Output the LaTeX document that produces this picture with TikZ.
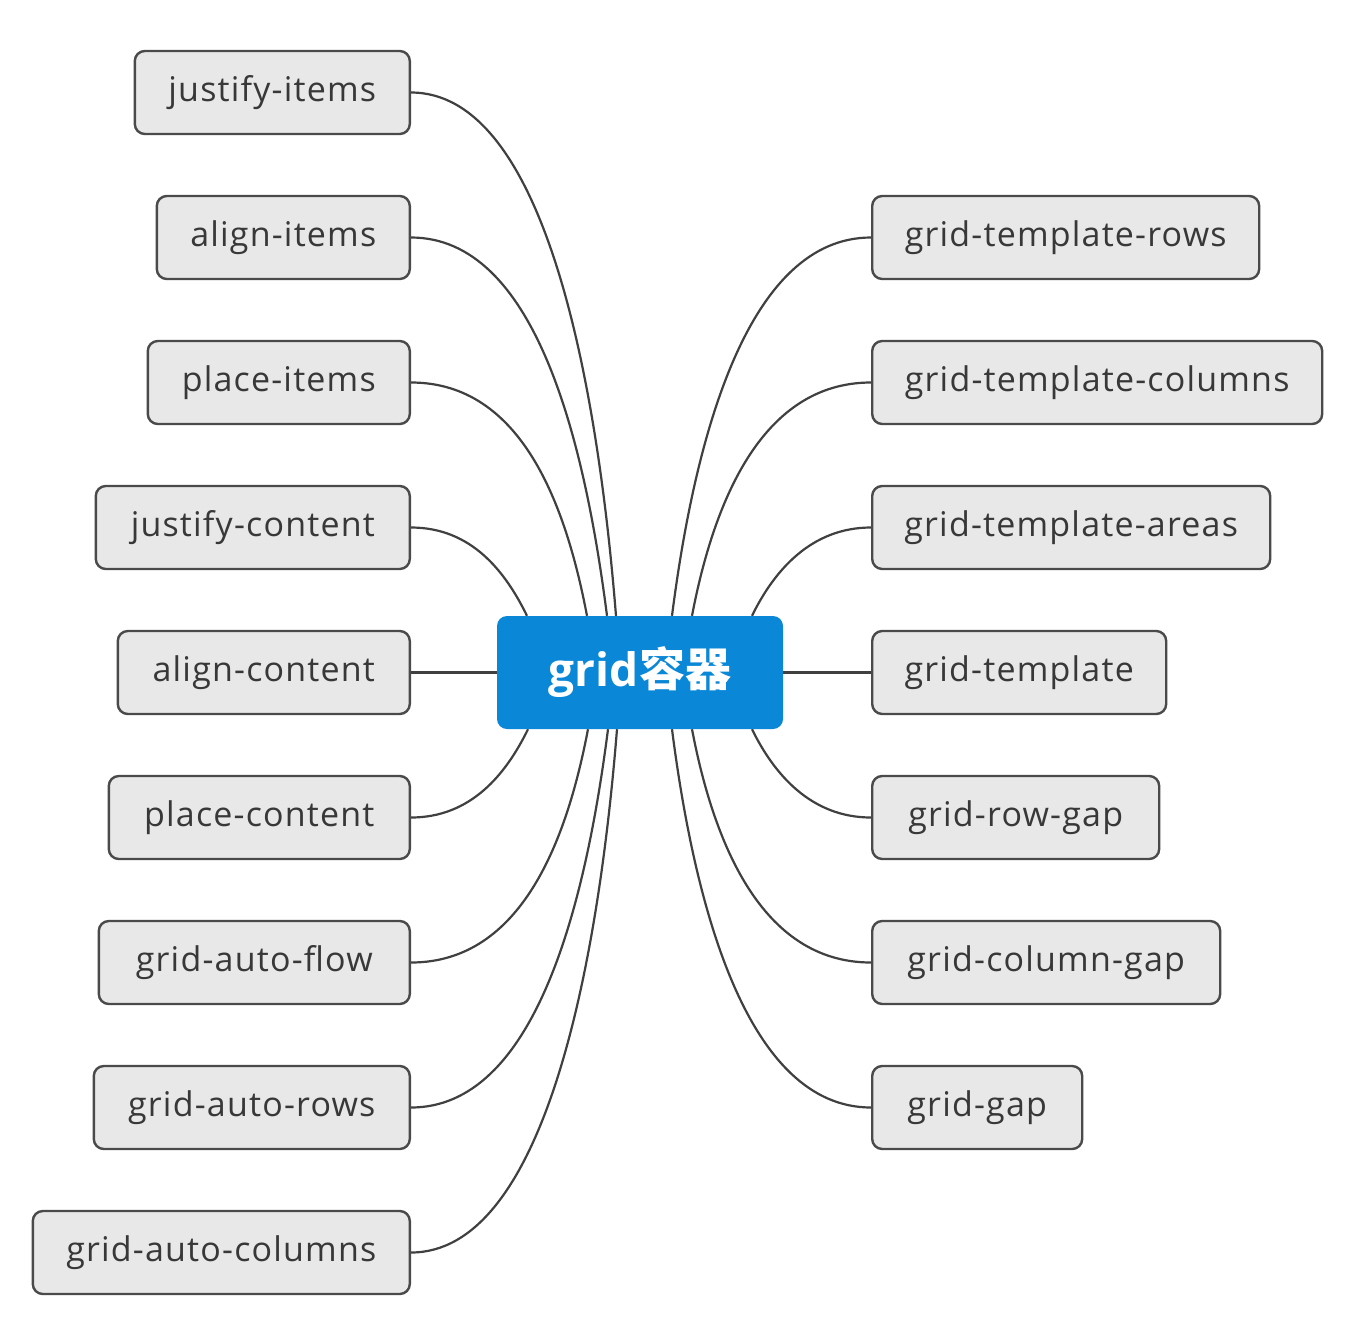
\documentclass[tikz,border=0pt]{standalone}
\usepackage{fontspec}
\setmainfont{Open Sans}[LetterSpace=3.5]
\newfontfamily\hubfont{Open Sans}
\newfontfamily\cjk{Noto Sans CJK SC}
\usetikzlibrary{backgrounds}
\definecolor{hubblue}{HTML}{0A87D7}
\definecolor{subfill}{HTML}{E8E8E8}
\definecolor{subline}{HTML}{4A4A4A}
\definecolor{subtext}{HTML}{383838}
\definecolor{linkcol}{HTML}{404040}
\begin{document}
\begin{tikzpicture}[x=1pt,y=-1pt,
  sub/.style={draw=subline, line width=2.4pt, fill=subfill, rounded corners=10pt,
    minimum height=83pt, inner sep=0pt, text=subtext, text depth=9pt, text height=27pt,
    font=\fontsize{34}{40}\selectfont},
  hub/.style={fill=hubblue, rounded corners=10pt, minimum width=286pt,
    minimum height=113pt, inner sep=0pt, text=white,
    font=\hubfont\fontsize{46}{54}\selectfont\bfseries},
  link/.style={draw=linkcol, line width=2.2pt}]
\useasboundingbox (0,0) rectangle (1366,1334);

\node[hub] (hub) at (640,672.5) {grid{\cjk 容器}};

% left nodes
\node[sub, anchor=east, minimum width=275pt] (ji)  at (411,92.5)  {justify-items};
\node[sub, anchor=east, minimum width=253pt] (ai)  at (411,237.5) {align-items};
\node[sub, anchor=east, minimum width=262pt] (pi)  at (411,382.5) {place-items};
\node[sub, anchor=east, minimum width=314pt] (jc)  at (411,527.5) {justify-content};
\node[sub, anchor=east, minimum width=292pt] (ac)  at (411,672.5) {align-content};
\node[sub, anchor=east, minimum width=301pt] (pc)  at (411,817.5) {place-content};
\node[sub, anchor=east, minimum width=311pt] (gaf) at (411,962.5) {grid-auto-flow};
\node[sub, anchor=east, minimum width=316pt] (gar) at (411,1107.5) {grid-auto-rows};
\node[sub, anchor=east, minimum width=377pt] (gac) at (411,1252.5) {grid-auto-columns};

% right nodes
\node[sub, anchor=west, minimum width=387pt] (gtr) at (871,237.5) {grid-template-rows};
\node[sub, anchor=west, minimum width=450pt] (gtc) at (871,382.5) {grid-template-columns};
\node[sub, anchor=west, minimum width=398pt] (gta) at (871,527.5) {grid-template-areas};
\node[sub, anchor=west, minimum width=294pt] (gt)  at (871,672.5) {grid-template};
\node[sub, anchor=west, minimum width=287pt] (grg) at (871,817.5) {grid-row-gap};
\node[sub, anchor=west, minimum width=348pt] (gcg) at (871,962.5) {grid-column-gap};
\node[sub, anchor=west, minimum width=210pt] (gg)  at (871,1107.5) {grid-gap};

\begin{scope}[on background layer]
\fill[white] (0,0) rectangle (1366,1334);
% top left
\draw[link] ([xshift=-24pt]hub.north) .. controls +(-20,-250) and +(130,0) .. (ji.east);
\draw[link] ([xshift=-33pt]hub.north) .. controls +(-23,-180) and +(123,0) .. (ai.east);
\draw[link] ([xshift=-53pt]hub.north) .. controls +(-21,-110) and +(111,0) .. (pi.east);
\draw[link] ([xshift=-113pt]hub.north) .. controls +(-22,-45) and +(60,0) .. (jc.east);
\draw[link] (hub.west) -- (ac.east);
% bottom left
\draw[link] ([xshift=-112pt]hub.south) .. controls +(-22,45) and +(60,0) .. (pc.east);
\draw[link] ([xshift=-52pt]hub.south) .. controls +(-21,110) and +(111,0) .. (gaf.east);
\draw[link] ([xshift=-32pt]hub.south) .. controls +(-23,180) and +(123,0) .. (gar.east);
\draw[link] ([xshift=-23pt]hub.south) .. controls +(-20,250) and +(130,0) .. (gac.east);
% top right
\draw[link] ([xshift=32pt]hub.north) .. controls +(23,-180) and +(-123,0) .. (gtr.west);
\draw[link] ([xshift=52pt]hub.north) .. controls +(21,-110) and +(-111,0) .. (gtc.west);
\draw[link] ([xshift=112pt]hub.north) .. controls +(22,-45) and +(-60,0) .. (gta.west);
\draw[link] (hub.east) -- (gt.west);
% bottom right
\draw[link] ([xshift=112pt]hub.south) .. controls +(22,45) and +(-60,0) .. (grg.west);
\draw[link] ([xshift=52pt]hub.south) .. controls +(21,110) and +(-111,0) .. (gcg.west);
\draw[link] ([xshift=32pt]hub.south) .. controls +(23,180) and +(-123,0) .. (gg.west);
\end{scope}
\end{tikzpicture}
\end{document}
